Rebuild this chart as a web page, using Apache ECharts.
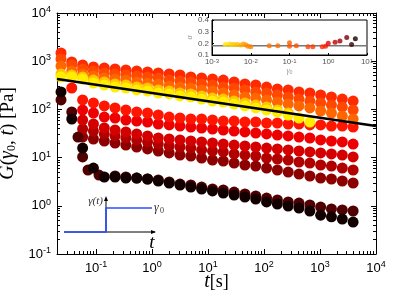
<!DOCTYPE html>
<html><head><meta charset="utf-8">
<script src="https://cdn.jsdelivr.net/npm/echarts@6/dist/echarts.min.js"></script>
<style>html,body{margin:0;padding:0;background:#fff}#c{width:395px;height:296px}</style>
</head><body><div id="c"></div>
<script>
// time grid (s)
const T = [0.0236,0.0367,0.0574,0.0895,0.140,0.218,0.340,0.531,0.829,1.29,2.02,3.15,4.92,7.67,12.0,18.7,29.2,45.5,71.0,111,173,270,421,658,1026,1600,2500,3900];
// G(gamma0,t) [Pa] per strain amplitude
const U1 = [1480,962,834,758,723,689,657,626,597,569,543,517,470,448,427,407,370,337,321,291,265,253,230,219,199,181,164,149];
const U2 = [1111,834,689,626,569,543,517,493,470,448,407,388,370,337,321,291,278,253,230,219,199,181,164,149,136,123,112,97.2];
const U3 = [795,626,543,493,448,427,407,370,353,337,306,291,278,253,241,219,199,181,172,157,142,129,118,107,92.6,84.2,72.9,63.2];
const Y2 = [543,517,470,407,370,337,321,291,278,253,241,219,209,190,172,164,149,136,123,112,97.2,84.2];
const Y1 = [470,470,427,353,321,291,278,253,241,219,209,190,181,164,149,142,129,118,107,97.2,88.3,76.5,66.3,54.8];
const L1 = [null,278,157,136,118,107,97.2,88.3,84.2,76.5,69.5,66.3,63.2,63.2,60.3,57.4,57.4,54.8,54.8,52.2,52.2,49.8,49.8,47.5,47.5,45.2,45.2,43.1];
const L2 = [null,null,97.2,84.2,69.5,66.3,60.3,57.4,54.8,49.8,47.5,45.2,43.1,41.1,39.2,37.4,35.6,34.0,32.4,30.9,29.4,28.1,26.7,25.5,23.2,22.1,21.1,19.1];
const L3 = [null,null,60.3,49.8,41.1,37.4,34.0,30.9,28.1,25.5,24.3,23.2,22.1,21.1,20.1,19.1,18.2,17.4,16.6,15.8,15.1,14.4,13.7,13.1,12.5,11.9,11.3,10.3];
const L4 = [null,null,39.2,35.6,30.9,28.1,25.5,23.2,21.1,19.1,17.4,16.6,15.8,14.4,13.7,13.1,11.9,11.3,10.8,9.8,9.35,8.91,8.10,7.72,7.02,6.69,6.08,5.53];
const L5 = [null,null,26.7,24.3,22.1,20.1,18.2,16.6,15.1,13.7,12.5,11.3,10.8,9.8,8.91,8.50,7.72,7.02,6.69,6.08,5.53,5.02,4.56,4.15,3.77,3.60,3.27,2.97];
const D1_T = [0.0236,0.0367,0.0474,0.0574,0.0716,0.1125,0.218,0.340,0.531,0.829,1.29,2.02,3.15,4.92,7.67,12.0,18.7,29.2,45.5,71.0,111,173,270,421,658,1026,1600,2500,3900];
const D1 = [157,88.3,26.7,10.3,5.53,4.35,4.15,3.96,3.77,3.60,3.43,3.12,2.83,2.70,2.45,2.23,2.13,1.93,1.76,1.60,1.45,1.32,1.20,1.14,1.04,0.94,0.86,0.82,0.78];
const D2 = [230,63.2,15.8,6.08,3.96,3.96,3.77,3.77,3.60,3.27,2.97,2.70,2.45,2.23,2.03,1.84,1.67,1.52,1.38,1.20,1.09,0.99,0.90,0.78,0.64,0.59,0.53,0.46];
// power-law fit line
const fitT = [0.02, 10000];
const fitG = [428, 45.3];
// inset: alpha vs gamma0
const gam0 = [0.0022,0.0028,0.0033,0.0038,0.0045,0.0055,0.0065,0.0075,0.0085,0.010,0.030,0.050,0.10,0.10,0.15,0.30,0.40,0.70,0.85,1.0,1.5,2.0,3.0,4.0,5.0];
const alpha = [0.19,0.195,0.19,0.19,0.19,0.185,0.195,0.185,0.175,0.17,0.18,0.18,0.205,0.175,0.18,0.17,0.17,0.17,0.175,0.2,0.21,0.22,0.25,0.19,0.24];
const alphaCol = ['#ffe600','#ffdd00','#ffd000','#ffc800','#ffbe00','#ffb000','#ffa000','#ff9400','#ff8800','#ff8000','#ff7000','#ff6a00','#ff6000','#ff5800','#ff5000','#ff4400','#ff3800','#ff2a00','#ff1a00','#e80000','#c00000','#a00000','#800000','#400000','#180000'];
const alphaFit = 0.18;

const chart = echarts.init(document.getElementById('c'), null, {renderer:'canvas'});
function pair(ts, gs){ const out=[]; gs.forEach((g,i)=>{ if(g!=null) out.push([ts[i], g]); }); return out; }
function powLab(v){ const l=Math.log10(v), e=Math.round(l); if(Math.abs(l-e)>1e-6) return ''; return '10{s|'+e+'}'; }
const FONT = 'Liberation Sans, Arial, sans-serif';
const SERIF = 'Liberation Serif, serif';
const labRich = {s:{fontSize:9, fontFamily:FONT, verticalAlign:'top', lineHeight:9}};
const smallRich = {s:{fontSize:6, fontFamily:FONT, verticalAlign:'top', lineHeight:6}};
const sc = (name, data, color, z) => ({name, type:'scatter', xAxisIndex:0, yAxisIndex:0, data, symbolSize:11, itemStyle:{color, opacity:1}, z:z||2, silent:true});

const mainX = {gridIndex:0, type:'log', logBase:10, min:0.02, max:10000, splitNumber:6,
  axisLine:{show:true, lineStyle:{color:'#000', width:1}},
  axisTick:{show:true, inside:true, length:5, lineStyle:{color:'#000'}},
  minorTick:{show:true, splitNumber:9, length:3, lineStyle:{color:'#000'}},
  splitLine:{show:false},
  axisLabel:{color:'#000', fontSize:13, fontFamily:FONT, formatter:powLab, rich:labRich, margin:6, lineHeight:16}};
const mainY = {gridIndex:0, type:'log', logBase:10, min:0.1, max:10000,
  axisLine:{show:true, lineStyle:{color:'#000', width:1}},
  axisTick:{show:true, inside:true, length:5, lineStyle:{color:'#000'}},
  minorTick:{show:true, splitNumber:9, length:3, lineStyle:{color:'#000'}},
  splitLine:{show:false},
  axisLabel:{color:'#000', fontSize:13, fontFamily:FONT, formatter:powLab, rich:labRich, margin:6, lineHeight:16}};

const option = {
  animation:false,
  backgroundColor:'#fff',
  grid:[{left:57, top:13, width:319, height:241, show:false, containLabel:false, outerBoundsMode:'none'},
        {left:212, top:20, width:155, height:35, show:true, backgroundColor:'#fff', borderColor:'#000', borderWidth:1, z:10, containLabel:false, outerBoundsMode:'none'}],
  xAxis:[
    Object.assign({}, mainX, {position:'bottom', name:'{i|t}[s]', nameLocation:'middle', nameGap:18, nameMoveOverlap:false,
      nameTextStyle:{fontFamily:SERIF, fontSize:18, color:'#000', verticalAlign:'top', rich:{i:{fontStyle:'italic', fontFamily:SERIF, fontSize:20}}}}),
    Object.assign({}, mainX, {position:'top', axisLabel:{show:false}}),
    {gridIndex:1, type:'log', logBase:10, min:0.001, max:10, position:'bottom', z:11,
      axisLine:{show:true, lineStyle:{color:'#000', width:1}},
      axisTick:{show:true, inside:true, length:2, lineStyle:{color:'#000'}},
      splitLine:{show:false},
      axisLabel:{color:'#555', fontSize:8, fontFamily:FONT, formatter:powLab, rich:smallRich, margin:3},
      name:'{i|γ}{s|0}', nameLocation:'middle', nameGap:12,
      nameTextStyle:{color:'#999', fontFamily:SERIF, fontSize:8, rich:{i:{fontStyle:'italic', fontSize:8, color:'#999'}, s:{fontSize:6, color:'#999', verticalAlign:'bottom'}}}}
  ],
  yAxis:[
    Object.assign({}, mainY, {position:'left', name:'{i|G}({i|γ}{s|0}{n|, }{i|t}){n| }[Pa]', nameLocation:'middle', nameGap:29,
      nameTextStyle:{fontFamily:SERIF, fontSize:19, color:'#000',
        rich:{i:{fontStyle:'italic', fontFamily:SERIF, fontSize:20}, s:{fontSize:12, fontFamily:SERIF, verticalAlign:'bottom'}, n:{fontSize:19, fontFamily:SERIF}}}}),
    Object.assign({}, mainY, {position:'right', axisLabel:{show:false}}),
    {gridIndex:1, type:'value', min:0.1, max:0.4, interval:0.1, z:11,
      axisLine:{show:true, lineStyle:{color:'#000', width:1}},
      axisTick:{show:true, inside:true, length:2, lineStyle:{color:'#000'}},
      splitLine:{show:false},
      axisLabel:{color:'#555', fontSize:8, fontFamily:FONT, margin:3, formatter:v=>v.toFixed(1)},
      name:'α', nameLocation:'middle', nameGap:14, nameTextStyle:{color:'#999', fontSize:8, fontFamily:SERIF, fontStyle:'italic'}}
  ],
  series:[
    sc('L5', pair(T,L5), '#8c0000'),
    sc('L4', pair(T,L4), '#b00000'),
    sc('L3', pair(T,L3), '#d40000'),
    sc('L2', pair(T,L2), '#ee0000'),
    sc('L1', pair(T,L1), '#ff1500'),
    sc('D1', pair(D1_T,D1), '#500000'),
    sc('D2', pair(T,D2), '#120000'),
    sc('U1', pair(T,U1), '#ff2a00'),
    sc('U2', pair(T,U2), '#ff4800'),
    sc('U3', pair(T,U3), '#ff6600'),
    sc('Y2', pair(T,Y2), '#ffc400'),
    sc('Y1', pair(T,Y1), '#ffee00'),
    {name:'fit', type:'line', xAxisIndex:0, yAxisIndex:0, data:pair(fitT,fitG), symbol:'none', lineStyle:{color:'#000', width:2.5}, z:5, silent:true},
    {name:'alphaFit', type:'line', xAxisIndex:2, yAxisIndex:2, data:[[0.001,alphaFit],[10,alphaFit]], symbol:'none', lineStyle:{color:'#777', width:1.5}, z:12, silent:true},
    {name:'alpha', type:'scatter', xAxisIndex:2, yAxisIndex:2, symbolSize:5, z:13, silent:true,
      data:gam0.map((g,i)=>({value:[g,alpha[i]], itemStyle:{color:alphaCol[i]}}))}
  ],
  graphic:[
    {type:'polyline', shape:{points:[[64,232],[155,232]]}, style:{stroke:'#000', lineWidth:1}, z:20},
    {type:'polygon', shape:{points:[[156,232],[151,230],[151,234]]}, style:{fill:'#000'}, z:20},
    {type:'polyline', shape:{points:[[106,232],[106,198]]}, style:{stroke:'#000', lineWidth:1}, z:20},
    {type:'polygon', shape:{points:[[106,196],[104,201],[108,201]]}, style:{fill:'#000'}, z:20},
    {type:'polyline', shape:{points:[[64,232],[106,232],[106,208],[152,208]]}, style:{stroke:'#2a4dff', lineWidth:1.6, fill:null}, z:21},
    {type:'text', x:103, y:201, style:{text:'γ(t)', font:'italic 11px Liberation Serif, serif', fill:'#333', align:'right', verticalAlign:'middle'}, z:22},
    {type:'text', x:154, y:208, style:{text:'γ', font:'italic 12px Liberation Serif, serif', fill:'#333', align:'left', verticalAlign:'middle'}, z:22},
    {type:'text', x:160, y:211, style:{text:'0', font:'8px Liberation Serif, serif', fill:'#333', align:'left', verticalAlign:'middle'}, z:22},
    {type:'text', x:152, y:243, style:{text:'t', font:'italic 19px Liberation Serif, serif', fill:'#000', align:'center', verticalAlign:'middle'}, z:22}
  ]
};
chart.setOption(option);
</script></body></html>
